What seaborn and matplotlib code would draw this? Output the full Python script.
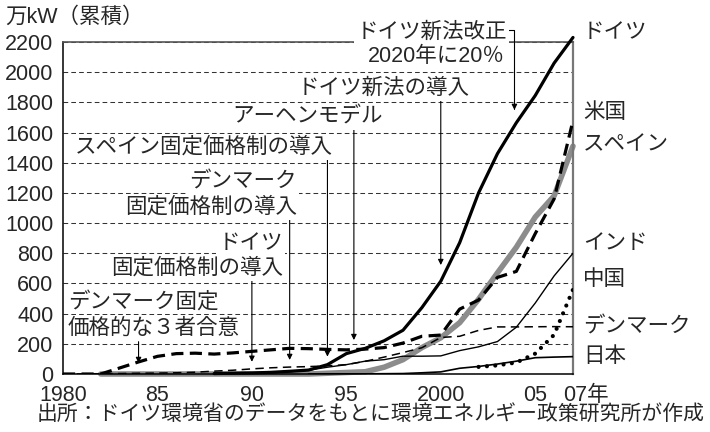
import matplotlib
matplotlib.use("Agg")
import matplotlib.pyplot as plt
import matplotlib.transforms as mtransforms
import seaborn as sns

# 風力発電の累積導入量（万kW）
years_germany = list(range(1988, 2008))
germany = [3, 5, 7, 11, 18, 26, 62, 135, 170, 220, 290, 440, 615, 870, 1200, 1460, 1665, 1845, 2060, 2230]

years_us = list(range(1980, 2008))
us = [0, 0, 0, 40, 80, 117, 135, 138, 132, 140, 150, 160, 170, 168, 163, 160, 165, 175, 205, 250,
      258, 430, 490, 640, 680, 930, 1160, 1680]

years_spain = list(range(1982, 2008))
spain = [0, 0, 0, 0, 0, 0, 0, 0, 0, 0, 0, 0, 5, 10, 15, 45, 95, 175, 240, 340, 495, 670, 840,
         1040, 1180, 1510]

years_india = list(range(1990, 2008))
india = [4, 8, 15, 25, 45, 62, 85, 95, 118, 118, 120, 155, 180, 215, 310, 470, 650, 800]

years_denmark = list(range(1980, 2008))
denmark = [0, 1, 2, 3, 5, 6, 8, 12, 19, 25, 34, 41, 46, 49, 54, 62, 84, 112, 142, 174, 242, 250,
           289, 312, 312, 313, 314, 313]

years_japan = list(range(1993, 2008))
japan = [0, 1, 1, 1, 2, 3, 8, 14, 38, 50, 66, 85, 108, 112, 115]

years_china = list(range(2002, 2008))
china = [47, 57, 76, 135, 260, 560]

x_ticks = [1980, 1985, 1990, 1995, 2000, 2005, 2007]
x_labels = ["1980", "85", "90", "95", "2000", "05", "07年"]

# 右端の国名ラベル
end_labels = ["ドイツ", "米国", "スペイン", "インド", "中国", "デンマーク", "日本"]
end_label_y = [2260, 1730, 1518, 868, 623, 311, 113]

# 注記（テキスト, x, y, 揃え）
notes = [
    ("デンマーク固定", 1980.26, 479, "left"),
    ("価格的な３者合意", 1980.26, 305, "left"),
    ("ドイツ", 1991.65, 868, "right"),
    ("固定価格制の導入", 1991.65, 702, "right"),
    ("デンマーク", 1992.39, 1272, "right"),
    ("固定価格制の導入", 1992.39, 1107, "right"),
    ("スペイン固定価格制の導入", 1994.29, 1504, "right"),
    ("アーヘンモデル", 1996.94, 1703, "right"),
    ("ドイツ新法の導入", 2001.55, 1895, "right"),
    ("ドイツ新法改正", 2003.5, 2266, "right"),
    ("2020年に20％", 2003.4, 2101, "right"),
]
# 矢印（x, 始点y, 終点y）
arrows = [(1984.0, 214, 73), (1990.0, 623, 81), (1992.0, 1034, 93), (1994.0, 1418, 115),
          (1995.4, 1617, 225), (2000.0, 1816, 722)]

sns.set_theme(style="white")
plt.rcParams["font.family"] = ["Liberation Sans", "Noto Sans CJK JP", "DejaVu Sans"]
fs = 15.5

fig = plt.figure(figsize=(7.1, 4.32), dpi=100)
ax = fig.add_axes([63 / 710, 1 - 374 / 432, (573 - 63) / 710, (374 - 42) / 432])

# スペイン（灰色の太線）を下に
sns.lineplot(x=years_spain, y=spain, ax=ax, color="#8c8c8c", lw=4.0, zorder=2, clip_on=False)
sns.lineplot(x=years_denmark, y=denmark, ax=ax, color="black", lw=1.1,
             linestyle=(0, (5.5, 3.5)), zorder=3)
sns.lineplot(x=years_japan, y=japan, ax=ax, color="black", lw=1.2, zorder=3)
sns.lineplot(x=years_india, y=india, ax=ax, color="black", lw=1.0, zorder=3)
sns.lineplot(x=years_china, y=china, ax=ax, color="black", lw=3.0,
             linestyle=(0, (0.01, 2.0)), dash_capstyle="round", zorder=3)
sns.lineplot(x=years_us, y=us, ax=ax, color="black", lw=2.3,
             linestyle=(0, (3.8, 2.0)), zorder=3)
sns.lineplot(x=years_germany, y=germany, ax=ax, color="black", lw=2.3, zorder=3, clip_on=False)

ax.set_xlim(1980, 2007)
ax.set_ylim(0, 2200)
ax.set_xlabel("")
ax.set_ylabel("")

ax.set_yticks(range(0, 2201, 200))
ax.set_yticklabels([str(v) for v in range(0, 2201, 200)], fontsize=fs)
ax.set_xticks(x_ticks)
lbls = ax.set_xticklabels(x_labels, fontsize=fs)
ax.set_xticks(range(1980, 2008), minor=True)
ax.tick_params(axis="x", which="both", direction="in", length=5, width=0.8, color="black", pad=8)
ax.tick_params(axis="y", length=0, pad=7)
lbls[-1].set_ha("left")
lbls[-1].set_transform(lbls[-1].get_transform() +
                       mtransforms.ScaledTranslation(-0.1, 0, fig.dpi_scale_trans))

ax.grid(axis="y", color="#333333", lw=0.75, linestyle=(0, (4.5, 3)))
ax.grid(axis="x", visible=False)
for s in ["left", "bottom"]:
    ax.spines[s].set_color("black")
    ax.spines[s].set_linewidth(1.1)
ax.spines["top"].set_color("#555555")
ax.spines["top"].set_linewidth(1.2)
ax.spines["right"].set_color("#777777")
ax.spines["right"].set_linewidth(1.6)

for txt, x, y, ha in notes:
    ax.text(x, y, txt, ha=ha, va="center", fontsize=fs, zorder=6, clip_on=False,
            bbox=dict(facecolor="white", edgecolor="none", pad=1.5))

for x, y0, y1 in arrows:
    ax.annotate("", xy=(x, y1), xytext=(x, y0),
                arrowprops=dict(arrowstyle="-|>", color="black", lw=0.8, mutation_scale=8,
                                shrinkA=0, shrinkB=0), zorder=5)
# ドイツ新法改正の折れ線矢印
ax.annotate("", xy=(2003.9, 1750), xytext=(2003.55, 2280), annotation_clip=False,
            arrowprops=dict(arrowstyle="-|>", color="black", lw=0.8, mutation_scale=8,
                            shrinkA=0, shrinkB=0,
                            connectionstyle="angle,angleA=0,angleB=90,rad=0"), zorder=5)

for lab, y in zip(end_labels, end_label_y):
    ax.text(2007.53, y, lab, ha="left", va="center", fontsize=fs, clip_on=False)

fig.text(5 / 710, 1 - 17 / 432, "万kW（累積）", ha="left", va="center", fontsize=fs)
fig.text(705 / 710, 1 - 414 / 432, "出所：ドイツ環境省のデータをもとに環境エネルギー政策研究所が作成",
         ha="right", va="center", fontsize=15)

fig.savefig("out.png", dpi=100)
